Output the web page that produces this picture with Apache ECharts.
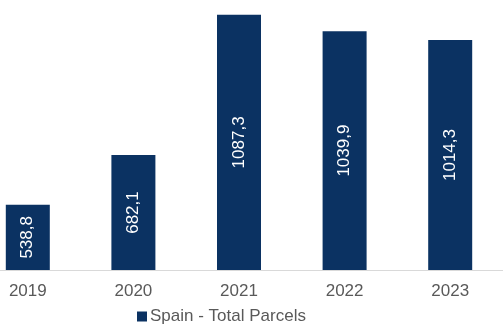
<!DOCTYPE html>
<html>
<head>
<meta charset="utf-8">
<script src="https://cdn.jsdelivr.net/npm/echarts@6/dist/echarts.min.js"></script>
<style>
  html, body { margin: 0; padding: 0; background: #fff; overflow: hidden; }
  /* the first category sits close to the left edge, so the plot is shifted left */
  #chart { width: 528px; height: 325px; margin-left: -25px; }
</style>
</head>
<body>
<div id="chart"></div>
<script>
const years = ["2019", "2020", "2021", "2022", "2023"];
const parcels = [538.8, 682.1, 1087.3, 1039.9, 1014.3];
const seriesName = "Spain - Total Parcels";

const chart = echarts.init(document.getElementById("chart"));
chart.setOption({
  animation: false,
  textStyle: { fontFamily: "Liberation Sans, Arial, sans-serif" },
  grid: { left: 0, right: 0, top: 0, bottom: 55, containLabel: false },
  legend: {
    data: [seriesName],
    top: 303,
    left: 157,
    padding: [5, 5, 5, 5],
    itemWidth: 10,
    itemHeight: 10,
    itemGap: 3,
    icon: "rect",
    textStyle: { color: "#595959", fontSize: 17, padding: [0, 0, 0, -2] }
  },
  xAxis: {
    type: "category",
    data: years,
    axisTick: { show: false },
    axisLine: { lineStyle: { color: "#d9d9d9", width: 1 } },
    axisLabel: { color: "#595959", fontSize: 17, margin: 13 }
  },
  yAxis: {
    type: "value",
    min: 350,
    max: 1130,
    show: false,
    splitLine: { show: false }
  },
  series: [
    {
      name: seriesName,
      type: "bar",
      data: parcels,
      barWidth: 44,
      itemStyle: { color: "#0b3262" },
      label: {
        show: true,
        position: "inside",
        rotate: 90,
        color: "#ffffff",
        fontSize: 17,
        formatter: p => p.value.toFixed(1).replace(".", ",")
      }
    }
  ]
});
</script>
</body>
</html>
